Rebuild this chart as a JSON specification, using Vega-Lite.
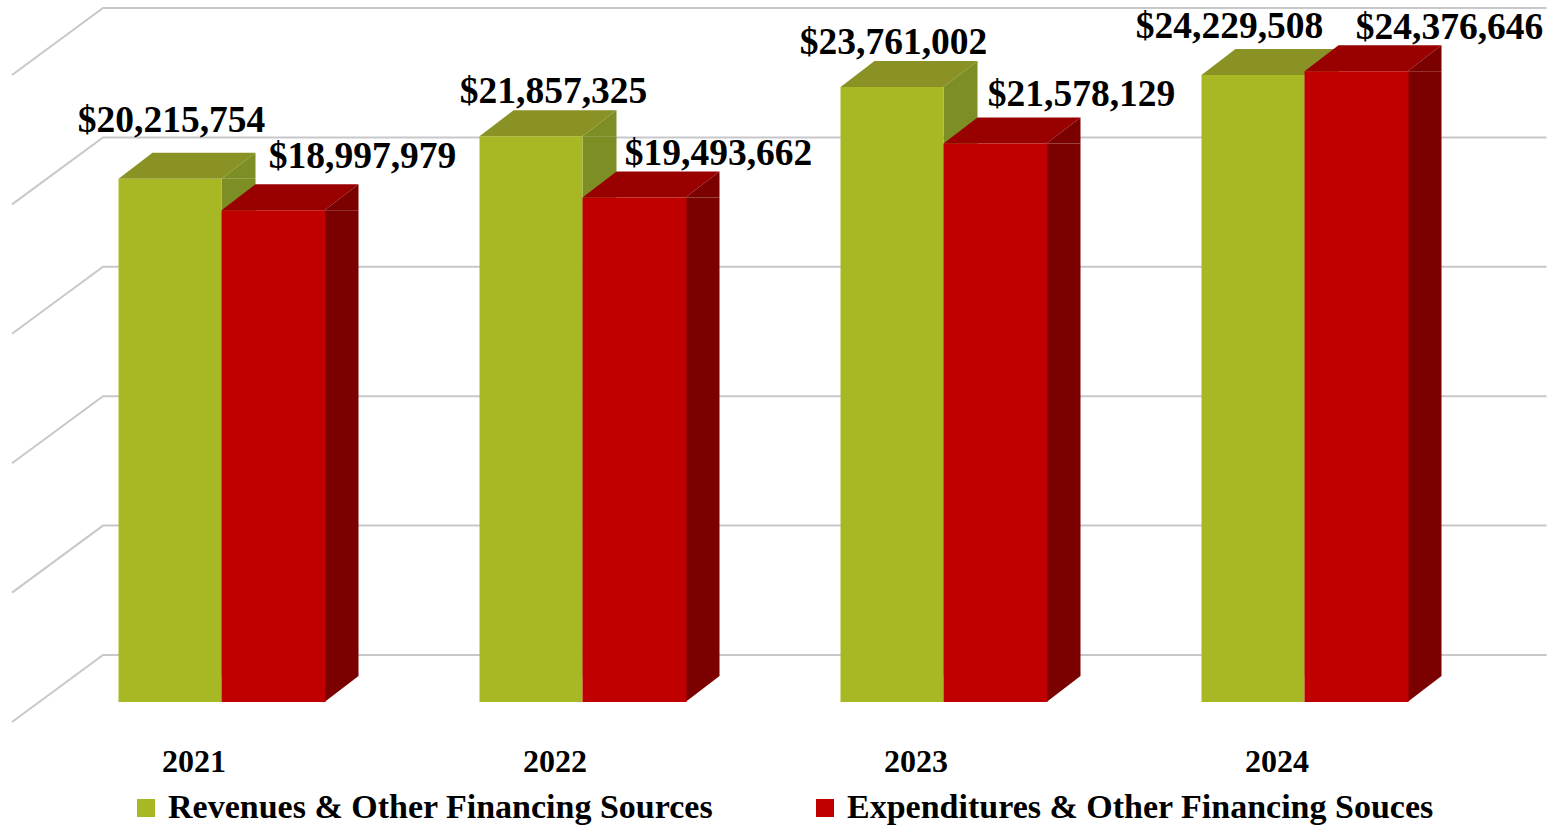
{
"$schema":"https://vega.github.io/schema/vega-lite/v6.json",
"width":1557,"height":826,"padding":0,"autosize":{"type":"none"},"background":"#ffffff",
"config":{"view":{"stroke":null},"text":{"font":"Liberation Serif","fontWeight":"bold","fontSize":37.5,"color":"#000000","align":"center","baseline":"middle"}},
"datasets":{
"bars":[
{"year":2021,"series":"Revenues & Other Financing Sources","value":20215754},
{"year":2022,"series":"Revenues & Other Financing Sources","value":21857325},
{"year":2023,"series":"Revenues & Other Financing Sources","value":23761002},
{"year":2024,"series":"Revenues & Other Financing Sources","value":24229508},
{"year":2021,"series":"Expenditures & Other Financing Souces","value":18997979},
{"year":2022,"series":"Expenditures & Other Financing Souces","value":19493662},
{"year":2023,"series":"Expenditures & Other Financing Souces","value":21578129},
{"year":2024,"series":"Expenditures & Other Financing Souces","value":24376646}
],
"walls":[
{"level":0,"year":2020.4197,"value":-773000},{"level":0,"year":2020.6717,"value":1816000},{"level":0,"year":2024.6704,"value":1816000},
{"level":5,"year":2020.4197,"value":4227000},{"level":5,"year":2020.6717,"value":6816000},{"level":5,"year":2024.6704,"value":6816000},
{"level":10,"year":2020.4197,"value":9227000},{"level":10,"year":2020.6717,"value":11816000},{"level":10,"year":2024.6704,"value":11816000},
{"level":15,"year":2020.4197,"value":14227000},{"level":15,"year":2020.6717,"value":16816000},{"level":15,"year":2024.6704,"value":16816000},
{"level":20,"year":2020.4197,"value":19227000},{"level":20,"year":2020.6717,"value":21816000},{"level":20,"year":2024.6704,"value":21816000},
{"level":25,"year":2020.4197,"value":24227000},{"level":25,"year":2020.6717,"value":26816000},{"level":25,"year":2024.6704,"value":26816000}
]},
"data":{"name":"bars"},
"encoding":{
"x":{"field":"year","type":"quantitative","scale":{"domain":[2020.3864,2024.6994],"nice":false,"zero":false,"padding":0},
"axis":{"values":[2021,2022,2023,2024],"format":"d","title":null,"grid":false,"domain":false,"ticks":false,"labelOffset":-28,"labelPadding":0,"offset":-80,"labelFont":"Liberation Serif","labelFontWeight":"bold","labelFontSize":32,"labelColor":"#000000","labelFlush":false,"labelOverlap":false,"labelBaseline":"top"}},
"y":{"field":"value","type":"quantitative","scale":{"domain":[-4790000,27125000],"nice":false,"zero":false,"padding":0},"axis":null}
},
"layer":[
{"data":{"name":"walls"},"mark":{"type":"line","color":"#c8c8cc","strokeWidth":2,"interpolate":"linear"},"encoding":{"detail":{"field":"level","type":"nominal"}}},
{"transform":[{"filter":"datum.series==='Revenues & Other Financing Sources'"}],"mark":{"type":"bar","orient":"vertical","width":34,"xOffset":17,"color":"#7d8f24"},"encoding":{"y2":{"datum":1005000}}},
{"transform":[{"filter":"datum.series==='Revenues & Other Financing Sources'"}],"mark":{"type":"point","filled":true,"opacity":1,"size":4,"xOffset":-51.5,"color":"#8a9226","shape":"M-51.5 0L-17.5 -26L85.5 -26L51.5 0Z"}},
{"transform":[{"filter":"datum.series==='Revenues & Other Financing Sources'"}],"mark":{"type":"point","filled":true,"opacity":1,"size":4,"xOffset":-51.5,"color":"#7d8f24","shape":"M51.5 0L85.5 -26L85.5 0Z"}},
{"transform":[{"filter":"datum.series==='Expenditures & Other Financing Souces'"}],"mark":{"type":"bar","orient":"vertical","width":34,"xOffset":120,"color":"#7b0000"},"encoding":{"y2":{"datum":1005000}}},
{"transform":[{"filter":"datum.series==='Expenditures & Other Financing Souces'"}],"mark":{"type":"point","filled":true,"opacity":1,"size":4,"xOffset":51.5,"color":"#990000","shape":"M-51.5 0L-17.5 -26L85.5 -26L51.5 0Z"}},
{"transform":[{"filter":"datum.series==='Expenditures & Other Financing Souces'"}],"mark":{"type":"point","filled":true,"opacity":1,"size":4,"xOffset":51.5,"color":"#7b0000","shape":"M51.5 0L85.5 -26L85.5 0Z"}},
{"transform":[{"filter":"datum.series==='Expenditures & Other Financing Souces'"}],"mark":{"type":"point","filled":true,"opacity":1,"size":4,"xOffset":51.5,"color":"#7b0000","shape":"M51.5 0L51.5 -26L85.5 -26Z"},"encoding":{"y":{"datum":0}}},
{"transform":[{"filter":"datum.series==='Revenues & Other Financing Sources'"}],"mark":{"type":"bar","orient":"vertical","width":103,"xOffset":-51.5},"encoding":{"y2":{"datum":0},"color":{"field":"series","type":"nominal","scale":{"domain":["Revenues & Other Financing Sources","Expenditures & Other Financing Souces"],"range":["#a8b825","#c00000"]},"legend":{"orient":"none","legendX":129,"legendY":791,"direction":"horizontal","columns":2,"title":null,"symbolType":"square","symbolSize":324,"symbolStrokeWidth":0,"symbolOpacity":1,"labelFont":"Liberation Serif","labelFontWeight":"bold","labelFontSize":34,"labelColor":"#000000","labelLimit":800,"labelOffset":5,"columnPadding":94,"padding":0}}}},
{"transform":[{"filter":"datum.series==='Expenditures & Other Financing Souces'"}],"mark":{"type":"bar","orient":"vertical","width":104,"xOffset":52},"encoding":{"y2":{"datum":0},"color":{"field":"series","type":"nominal"}}},
{"transform":[{"filter":"datum.year===2021 && datum.series[0]==='R'"}],"mark":{"type":"text","dx":-50,"dy":-58},"encoding":{"text":{"field":"value","type":"quantitative","format":"$,d"}}},
{"transform":[{"filter":"datum.year===2021 && datum.series[0]==='E'"}],"mark":{"type":"text","dx":141,"dy":-53},"encoding":{"text":{"field":"value","type":"quantitative","format":"$,d"}}},
{"transform":[{"filter":"datum.year===2022 && datum.series[0]==='R'"}],"mark":{"type":"text","dx":-29,"dy":-44},"encoding":{"text":{"field":"value","type":"quantitative","format":"$,d"}}},
{"transform":[{"filter":"datum.year===2022 && datum.series[0]==='E'"}],"mark":{"type":"text","dx":136,"dy":-44},"encoding":{"text":{"field":"value","type":"quantitative","format":"$,d"}}},
{"transform":[{"filter":"datum.year===2023 && datum.series[0]==='R'"}],"mark":{"type":"text","dx":-50,"dy":-44},"encoding":{"text":{"field":"value","type":"quantitative","format":"$,d"}}},
{"transform":[{"filter":"datum.year===2023 && datum.series[0]==='E'"}],"mark":{"type":"text","dx":138,"dy":-49},"encoding":{"text":{"field":"value","type":"quantitative","format":"$,d"}}},
{"transform":[{"filter":"datum.year===2024 && datum.series[0]==='R'"}],"mark":{"type":"text","dx":-75,"dy":-48},"encoding":{"text":{"field":"value","type":"quantitative","format":"$,d"}}},
{"transform":[{"filter":"datum.year===2024 && datum.series[0]==='E'"}],"mark":{"type":"text","dx":145,"dy":-43},"encoding":{"text":{"field":"value","type":"quantitative","format":"$,d"}}}
]
}
